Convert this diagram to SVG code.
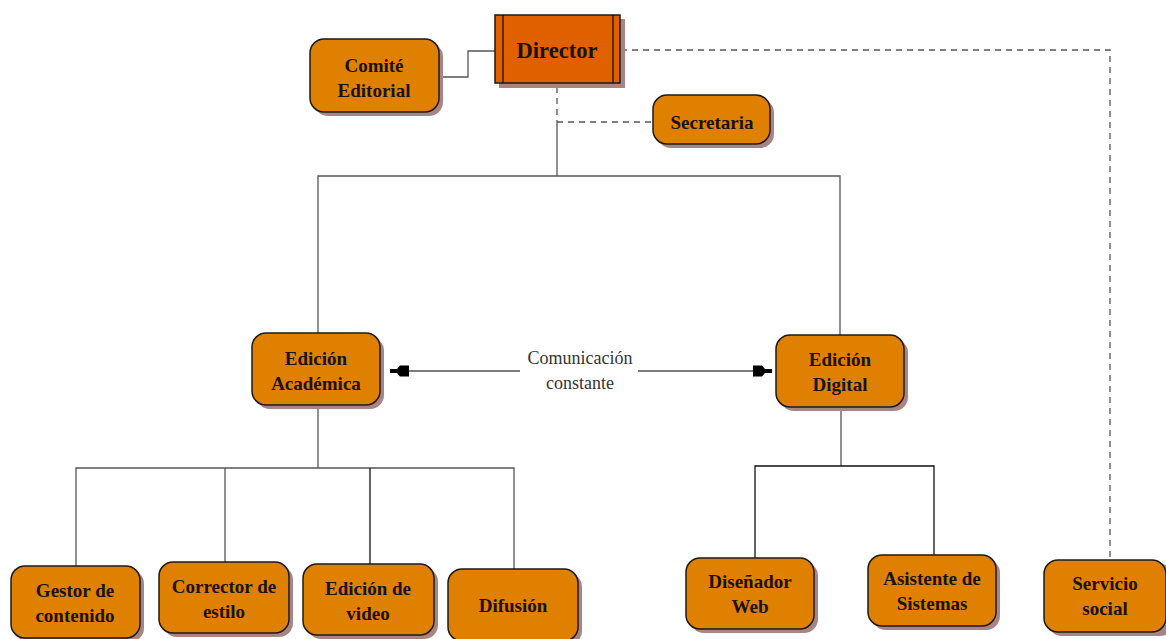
<svg xmlns="http://www.w3.org/2000/svg" width="1166" height="639" viewBox="0 0 1166 639">
<style>
.node{fill:#E08000;stroke:#1a1a1a;stroke-width:1.5}
.dir{fill:#E06000;stroke:#1a1a1a;stroke-width:1.5}
.sh{fill:#A88484}
.t{font-family:"Liberation Serif",serif;font-weight:bold;font-size:19px;fill:#1a1208;text-anchor:middle}
.td{font-family:"Liberation Serif",serif;font-weight:bold;font-size:22.5px;fill:#1a1208;text-anchor:middle}
.lbl{font-family:"Liberation Serif",serif;font-size:18px;fill:#333;text-anchor:middle}
.c{fill:none;stroke:#555;stroke-width:1.3}
.k{fill:none;stroke:#111;stroke-width:1.3}
.d{fill:none;stroke:#555;stroke-width:1.3;stroke-dasharray:6,5}
</style>
<defs>
<marker id="ah" markerUnits="userSpaceOnUse" markerWidth="22" markerHeight="14" viewBox="-20 -7 22 14" refX="0" refY="0" orient="auto-start-reverse">
<path d="M0,-2 L-7,-2 L-10,-5.5 L-19,-5.5 L-19,5.5 L-10,5.5 L-7,2 L0,2 Z" fill="#000"/>
</marker>
</defs>
<g id="connectors">
<polyline class="c" points="439,77 468,77 468,51 495,51"/>
<polyline class="d" points="621,50 1110,50 1110,560"/>
<line class="d" x1="557" y1="87" x2="557" y2="122"/>
<line class="d" x1="557" y1="122" x2="653" y2="122"/>
<line class="c" x1="557" y1="122" x2="557" y2="176"/>
<polyline class="c" points="318,333 318,176 840,176 840,335"/>
<line class="c" x1="520" y1="371" x2="390" y2="371" marker-end="url(#ah)"/>
<line class="c" x1="638" y1="371" x2="772" y2="371" marker-end="url(#ah)"/>
<line class="c" x1="318" y1="405" x2="318" y2="468"/>
<polyline class="c" points="76,566 76,468 514,468 514,569"/>
<line class="c" x1="225" y1="468" x2="225" y2="562"/>
<line class="k" x1="370" y1="468" x2="370" y2="564"/>
<line class="c" x1="841" y1="407" x2="841" y2="466"/>
<polyline class="k" points="755,558 755,466 934,466 934,555"/>
<text class="lbl" x="580" y="364">Comunicación</text>
<text class="lbl" x="580" y="389">constante</text>
</g>
<g id="director">
<rect class="sh" x="499" y="19" width="126" height="69"/>
<rect class="dir" x="495" y="15" width="125" height="68"/>
<line class="k" x1="503" y1="15" x2="503" y2="83"/>
<line class="k" x1="613" y1="15" x2="613" y2="83"/>
<text class="td" x="557" y="58">Director</text>
</g>
<g id="comite">
<rect class="sh" x="314" y="43" width="129" height="73" rx="14"/>
<rect class="node" x="310" y="39" width="129" height="73" rx="14"/>
<text class="t" x="374" y="72">Comité</text>
<text class="t" x="374" y="97">Editorial</text>
</g>
<g id="secretaria">
<rect class="sh" x="657" y="99" width="117" height="49" rx="14"/>
<rect class="node" x="653" y="95" width="117" height="49" rx="14"/>
<text class="t" x="712" y="129">Secretaria</text>
</g>
<g id="edicion-academica">
<rect class="sh" x="256" y="337" width="128" height="72" rx="14"/>
<rect class="node" x="252" y="333" width="128" height="72" rx="14"/>
<text class="t" x="316" y="365">Edición</text>
<text class="t" x="316" y="390">Académica</text>
</g>
<g id="edicion-digital">
<rect class="sh" x="780" y="339" width="128" height="72" rx="14"/>
<rect class="node" x="776" y="335" width="128" height="72" rx="14"/>
<text class="t" x="840" y="366">Edición</text>
<text class="t" x="840" y="391">Digital</text>
</g>
<g id="gestor">
<rect class="sh" x="15" y="570" width="129" height="72" rx="14"/>
<rect class="node" x="11" y="566" width="129" height="72" rx="14"/>
<text class="t" x="75" y="597">Gestor de</text>
<text class="t" x="75" y="622">contenido</text>
</g>
<g id="corrector">
<rect class="sh" x="163" y="566" width="130" height="71" rx="14"/>
<rect class="node" x="159" y="562" width="130" height="71" rx="14"/>
<text class="t" x="224" y="593">Corrector de</text>
<text class="t" x="224" y="618">estilo</text>
</g>
<g id="edicion-video">
<rect class="sh" x="307" y="568" width="131" height="71" rx="14"/>
<rect class="node" x="303" y="564" width="131" height="71" rx="14"/>
<text class="t" x="368" y="595">Edición de</text>
<text class="t" x="368" y="620">video</text>
</g>
<g id="difusion">
<rect class="sh" x="452" y="573" width="130" height="72" rx="14"/>
<rect class="node" x="448" y="569" width="130" height="72" rx="14"/>
<text class="t" x="513" y="612">Difusión</text>
</g>
<g id="disenador">
<rect class="sh" x="690" y="562" width="128" height="71" rx="14"/>
<rect class="node" x="686" y="558" width="128" height="71" rx="14"/>
<text class="t" x="750" y="588">Diseñador</text>
<text class="t" x="750" y="613">Web</text>
</g>
<g id="asistente">
<rect class="sh" x="872" y="559" width="128" height="71" rx="14"/>
<rect class="node" x="868" y="555" width="128" height="71" rx="14"/>
<text class="t" x="932" y="585">Asistente de</text>
<text class="t" x="932" y="610">Sistemas</text>
</g>
<g id="servicio">
<rect class="sh" x="1048" y="564" width="126" height="72" rx="14"/>
<rect class="node" x="1044" y="560" width="122" height="72" rx="14"/>
<text class="t" x="1105" y="590">Servicio</text>
<text class="t" x="1105" y="615">social</text>
</g>
</svg>
